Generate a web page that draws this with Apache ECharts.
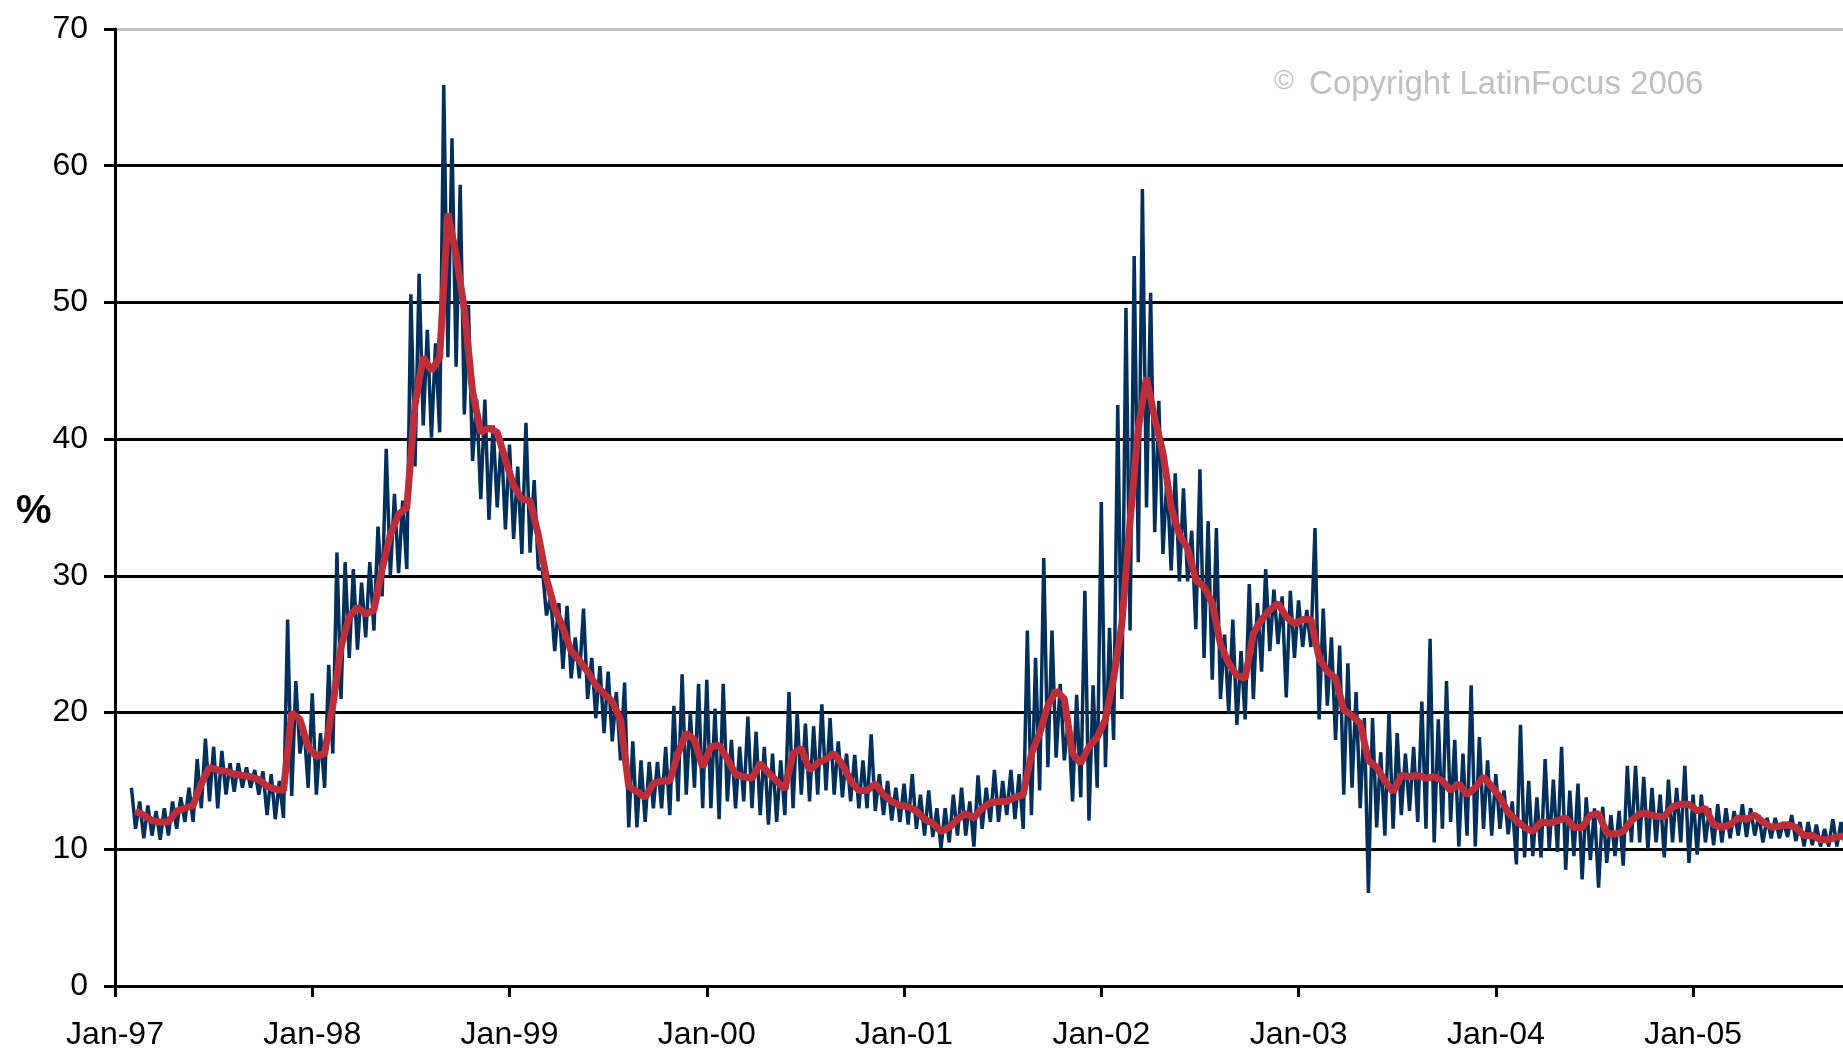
<!DOCTYPE html>
<html>
<head>
<meta charset="utf-8">
<script src="https://cdn.jsdelivr.net/npm/echarts@6/dist/echarts.min.js"></script>
<style>
    html, body {margin: 0; padding: 0; background: #fff;}
    #main {width: 1843px; height: 1051px;}
</style>
</head>
<body>
<div id="main"></div>
<script>
// half-month periods, counted from Jan-97 (period 2 = first half of Feb-97)
const firstPeriod = 2;
const yearTicks = [1997, 1998, 1999, 2000, 2001, 2002, 2003, 2004, 2005];

// daily series, read as the high and low of each half-month
const blueHigh = [
    14.5, 13.5, 13.2, 12.8, 13.0, 13.5, 13.8, 14.5, 16.6, 18.1, 17.5, 17.2, 16.3, 16.3, 16.0, 15.8, 15.7, 15.5, 15.0, 26.8, 22.3, 19.0,
    21.4, 18.5, 23.5, 31.7, 31.0, 30.5, 29.5, 31.0, 33.6, 39.3, 36.0, 35.5, 50.6, 52.1, 48.0, 47.0, 65.9, 62.0, 58.6, 49.8, 42.9, 42.9, 41.0, 40.1,
    39.6, 38.0, 41.2, 37.0, 30.5, 28.5, 28.0, 27.8, 25.5, 27.6, 24.0, 23.4, 23.0, 21.5, 22.2, 17.9, 16.5, 16.4, 16.4, 17.5, 20.5, 22.8, 20.0, 22.1,
    22.4, 20.3, 22.1, 18.0, 17.5, 19.7, 18.6, 17.5, 17.0, 16.5, 21.5, 20.0, 19.2, 19.0, 20.6, 19.6, 17.9, 17.0, 16.9, 16.5, 18.4, 15.5, 15.0, 14.5,
    14.8, 15.5, 14.0, 14.3, 13.0, 13.0, 14.0, 14.5, 13.5, 15.4, 14.5, 15.8, 15.0, 15.8, 15.5, 26.0, 24.0, 31.3, 26.0, 22.1, 19.5, 21.3, 28.9, 22.0,
    35.4, 26.2, 42.5, 49.6, 53.4, 58.3, 50.7, 42.8, 37.4, 37.5, 36.4, 33.3, 37.8, 34.0, 33.5, 25.7, 26.8, 24.5, 29.4, 28.0, 30.5, 29.0, 28.5, 28.9,
    28.2, 27.5, 33.5, 27.6, 25.5, 24.9, 23.6, 21.5, 19.6, 19.6, 17.1, 20.0, 18.5, 17.0, 17.5, 20.8, 25.4, 19.5, 22.3, 18.0, 17.0, 22.0, 18.2, 16.5,
    15.5, 14.3, 13.5, 19.1, 15.0, 13.8, 16.6, 15.1, 17.5, 14.3, 14.8, 13.8, 13.0, 13.1, 12.5, 12.8, 16.1, 16.1, 15.3, 14.5, 14.0, 15.1, 14.5, 16.1,
    14.0, 14.0, 13.0, 13.3, 13.0, 12.8, 13.3, 13.0, 12.5, 12.3, 12.3, 12.0, 12.5, 12.0, 12.0, 11.8, 11.5, 12.2, 12.0
];
const blueLow = [
    11.5, 10.8, 11.0, 10.7, 11.0, 11.5, 12.0, 12.0, 13.0, 13.5, 13.0, 14.0, 14.2, 14.5, 14.5, 14.0, 12.5, 12.2, 12.3, 13.9, 17.0, 14.5,
    14.0, 14.5, 17.0, 21.0, 24.0, 24.6, 25.5, 26.0, 28.5, 30.0, 30.2, 30.5, 38.0, 41.0, 40.1, 40.5, 46.0, 45.3, 41.8, 38.4, 35.6, 34.1, 35.0, 33.4,
    32.7, 31.6, 31.7, 30.5, 27.1, 24.5, 23.2, 22.5, 22.5, 21.0, 19.6, 18.5, 17.9, 16.5, 11.6, 11.6, 12.0, 13.0, 13.0, 12.5, 13.5, 14.0, 14.5, 13.0,
    13.0, 12.2, 13.5, 13.0, 13.5, 13.0, 12.5, 11.8, 12.0, 12.5, 13.0, 14.0, 13.5, 14.0, 14.3, 14.0, 13.8, 13.5, 13.0, 13.0, 12.8, 12.5, 12.1, 12.0,
    11.8, 11.5, 11.0, 10.9, 10.1, 10.5, 11.0, 11.0, 10.2, 11.5, 12.0, 12.0, 12.5, 12.2, 11.5, 12.5, 14.3, 16.0, 16.7, 16.5, 13.5, 13.8, 12.1, 14.5,
    16.0, 18.0, 21.0, 26.0, 31.0, 35.0, 33.2, 31.6, 30.4, 29.6, 29.6, 26.1, 24.0, 22.4, 21.0, 20.0, 19.1, 19.5, 21.0, 23.0, 24.5, 25.0, 21.1, 24.0,
    24.8, 24.8, 19.5, 20.5, 18.0, 14.0, 14.5, 13.0, 6.8, 11.6, 11.0, 11.5, 12.5, 12.8, 12.0, 11.5, 10.5, 11.5, 12.0, 10.2, 11.0, 10.2, 11.5, 11.0,
    11.5, 11.1, 8.9, 9.4, 9.5, 9.4, 10.0, 9.8, 8.5, 9.5, 7.8, 9.2, 7.2, 9.0, 9.5, 8.8, 10.5, 10.5, 10.0, 10.5, 9.4, 10.5, 10.5, 9.0,
    9.6, 10.5, 10.3, 10.5, 10.8, 11.0, 10.9, 11.0, 10.5, 10.8, 10.8, 10.9, 10.6, 10.2, 10.3, 10.2, 10.2, 10.2, 10.3
];
// moving average, one value per half-month
const redValues = [
    12.8, 12.5, 12.1, 12.0, 12.0, 12.8, 13.0, 13.2, 14.8, 16.0, 15.8, 15.7, 15.5, 15.4, 15.3, 15.1, 14.6, 14.4, 14.3, 20.0, 19.5, 17.5,
    16.8, 17.0, 20.5, 24.8, 27.0, 27.7, 27.2, 27.5, 30.5, 33.0, 34.5, 35.0, 42.5, 46.0, 45.0, 46.0, 56.5, 53.5, 49.5, 43.5, 40.5, 40.8, 40.5, 38.5,
    36.6, 35.6, 35.5, 33.0, 29.8, 27.6, 26.2, 24.5, 23.8, 23.0, 22.0, 21.4, 20.8, 19.5, 14.6, 14.2, 13.8, 14.8, 15.0, 15.0, 17.0, 18.5, 18.0, 16.0,
    17.5, 17.6, 16.6, 15.5, 15.3, 15.2, 16.3, 15.6, 15.0, 14.4, 17.0, 17.4, 15.8, 16.3, 16.6, 17.0, 16.2, 15.0, 14.3, 14.3, 14.8, 14.0, 13.5, 13.2,
    13.1, 12.8, 12.2, 11.9, 11.3, 11.6, 12.2, 12.6, 12.3, 13.0, 13.4, 13.5, 13.5, 13.8, 14.0, 17.0, 18.5, 20.5, 21.6, 21.0, 17.0, 16.3, 17.5, 18.2,
    19.5, 22.5, 26.5, 34.0, 40.8, 44.5, 41.5, 39.0, 35.0, 33.0, 32.0, 29.7, 29.2, 28.0, 25.0, 23.6, 22.7, 22.5, 25.8, 26.8, 27.5, 28.0, 27.0, 26.5,
    26.8, 26.8, 24.0, 23.0, 22.5, 20.2, 19.8, 19.2, 16.5, 16.0, 15.0, 14.2, 15.4, 15.3, 15.4, 15.2, 15.3, 15.0, 14.3, 14.8, 14.0, 14.5, 15.3, 14.6,
    13.8, 12.7, 12.1, 11.6, 11.3, 12.0, 11.9, 12.1, 12.3, 11.6, 11.6, 12.5, 12.6, 11.2, 11.1, 11.3, 12.1, 12.6, 12.6, 12.4, 12.4, 13.1, 13.3, 13.3,
    12.8, 13.0, 11.8, 11.6, 11.8, 12.3, 12.2, 12.5, 12.0, 11.6, 11.7, 11.8, 11.6, 11.0, 11.0, 10.7, 10.7, 10.9, 11.0
];

const yearOf = p => yearTicks[0] + p / 24;

const blueData = [];
const redData = [];
blueHigh.forEach((hi, i) => {
    const p = firstPeriod + i;
    blueData.push([yearOf(p), hi]);
    blueData.push([yearOf(p + 0.5), blueLow[i]]);
    redData.push([yearOf(p + 0.5), redValues[i]]);
});

const font = "'Liberation Sans', Arial, sans-serif";
const chart = echarts.init(document.getElementById('main'));
chart.setOption({
    animation: false,
    backgroundColor: '#ffffff',
    grid: {left: 115, right: 0, top: 29, bottom: 64, containLabel: false},
    graphic: [
        {
            type: 'text',
            left: 16,
            top: 492,
            style: {text: '%', font: 'bold 40px ' + font, fill: '#000'}
        },
        {
            type: 'text',
            left: 1274,
            top: 68,
            style: {
                text: '{c|©} Copyright LatinFocus 2006',
                font: '33px ' + font,
                fill: '#c0c0c0',
                rich: {c: {fontSize: 27, fontFamily: font, fill: '#c0c0c0', verticalAlign: 'top', padding: [0, 6, 6, 0]}}
            }
        }
    ],
    xAxis: {
        type: 'value',
        min: yearTicks[0],
        max: 2005.76,
        interval: 1,
        axisLine: {lineStyle: {color: '#000', width: 3}},
        axisTick: {show: true, length: 11, lineStyle: {color: '#000', width: 3}},
        axisLabel: {
            margin: 33,
            fontSize: 32,
            fontFamily: font,
            color: '#000',
            showMaxLabel: false,
            formatter: v => (yearTicks.indexOf(v) >= 0 ? 'Jan-' + String(v).slice(2) : '')
        },
        splitLine: {show: false}
    },
    yAxis: {
        type: 'value',
        min: 0,
        max: 70,
        interval: 10,
        axisLine: {show: true, lineStyle: {color: '#000', width: 3}},
        axisTick: {show: true, length: 11, lineStyle: {color: '#000', width: 3}},
        axisLabel: {margin: 27, fontSize: 32, fontFamily: font, color: '#000'},
        splitLine: {
            show: true,
            lineStyle: {
                width: 3,
                color: ['#000', '#000', '#000', '#000', '#000', '#000', '#000', '#c0c0c0']
            }
        }
    },
    series: [
        {
            name: 'daily',
            type: 'line',
            data: blueData,
            showSymbol: false,
            symbol: 'none',
            lineStyle: {color: '#03305a', width: 3.5},
            z: 3
        },
        {
            name: 'average',
            type: 'line',
            data: redData,
            showSymbol: false,
            symbol: 'none',
            lineStyle: {color: '#be2d3a', width: 7},
            z: 4
        }
    ]
});
</script>
</body>
</html>
